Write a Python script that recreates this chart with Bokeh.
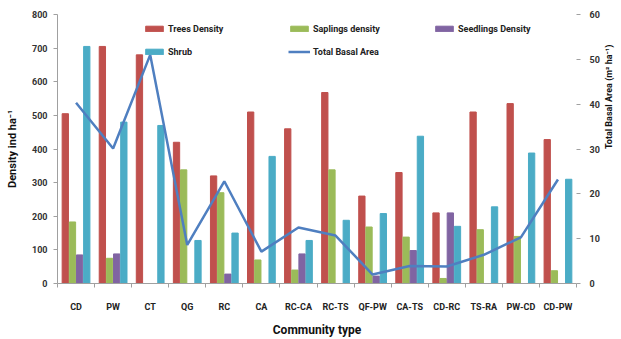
import math
from bokeh.plotting import figure
from bokeh.models import (Range1d, LinearAxis, FixedTicker, Legend, LegendItem,
                          ColumnDataSource)
from bokeh.embed import file_html
from bokeh.resources import INLINE

# Community types and measured stand attributes
communities = ["CD", "PW", "CT", "QG", "RC", "CA", "RC-CA", "RC-TS",
               "QF-PW", "CA-TS", "CD-RC", "TS-RA", "PW-CD", "CD-PW"]
trees_density = [505, 705, 680, 420, 320, 510, 460, 568, 260, 330, 210, 510, 535, 428]
saplings_density = [183, 75, 0, 338, 270, 70, 40, 338, 168, 138, 15, 160, 140, 38]
seedlings_density = [85, 88, 0, 0, 28, 0, 88, 0, 22, 98, 210, 0, 0, 0]
shrub = [705, 480, 470, 128, 150, 378, 128, 188, 208, 438, 170, 228, 388, 310]
total_basal_area = [40.3, 30.1, 51.0, 8.6, 22.8, 7.1, 12.5, 10.7, 2.0, 3.9, 3.8, 6.4, 10.3, 23.2]

left_ticks = [0, 100, 200, 300, 400, 500, 600, 700, 800]
right_ticks = [0, 10, 20, 30, 40, 50, 60]

FONT = "Roboto"
RED, GREEN, PURPLE, CYAN, BLUE = "#C0504D", "#9BBB59", "#8064A2", "#4BACC6", "#4F7FC0"

n = len(communities)
centers = [i + 0.5 for i in range(n)]
step = 0.193
bw = 0.17

p = figure(width=621, height=339, output_backend="svg", toolbar_location=None,
           x_range=Range1d(0, n), y_range=Range1d(0, 800),
           min_border_left=57, min_border_right=34, min_border_top=14,
           min_border_bottom=46, outline_line_color=None,
           background_fill_color="white", border_fill_color="white")
p.grid.visible = False
p.extra_y_ranges = {"tba": Range1d(0, 60)}

src = ColumnDataSource(dict(x=centers, tba=total_basal_area))

def shifted(k):
    return [c + k * step for c in centers]

r_trees = p.vbar(x=shifted(-1.5), top=trees_density, width=bw, color=RED)
r_sap = p.vbar(x=shifted(-0.5), top=saplings_density, width=bw, color=GREEN)
r_seed = p.vbar(x=shifted(0.5), top=seedlings_density, width=bw, color=PURPLE)
r_shrub = p.vbar(x=shifted(1.5), top=shrub, width=bw, color=CYAN)
r_line = p.line("x", "tba", source=src, y_range_name="tba", line_color=BLUE,
                line_width=2.5)

# bottom category axis: labels at centres, tick marks at group boundaries
xa = p.xaxis[0]
xa.ticker = FixedTicker(ticks=centers, minor_ticks=list(range(n + 1)))
xa.major_label_overrides = {c: lab for c, lab in zip(centers, communities)}
xa.major_tick_line_color = None
xa.minor_tick_out = 4
xa.minor_tick_in = 0
xa.minor_tick_line_color = "#A0A0A0"
xa.axis_line_color = "#A0A0A0"
xa.major_label_text_font = FONT
xa.major_label_text_font_style = "bold"
xa.major_label_text_font_size = "9px"
xa.major_label_text_color = "#222222"
xa.major_label_standoff = 12
xa.axis_label = "Community type"
xa.axis_label_text_font = FONT
xa.axis_label_text_font_style = "bold"
xa.axis_label_text_font_size = "12px"
xa.axis_label_text_color = "#111111"
xa.axis_label_standoff = 8

ya = p.yaxis[0]
ya.ticker = FixedTicker(ticks=left_ticks)
ya.axis_line_color = "#A0A0A0"
ya.major_tick_line_color = "#A0A0A0"
ya.major_tick_out = 4
ya.major_tick_in = 0
ya.minor_tick_line_color = None
ya.major_label_text_font = FONT
ya.major_label_text_font_style = "bold"
ya.major_label_text_font_size = "9px"
ya.major_label_text_color = "#333333"
ya.major_label_standoff = 6
ya.axis_label = "Density ind ha\u207b\u00b9"
ya.axis_label_text_font = FONT
ya.axis_label_text_font_style = "bold"
ya.axis_label_text_font_size = "11px"
ya.axis_label_text_color = "#111111"
ya.axis_label_standoff = 10

ra = LinearAxis(y_range_name="tba", ticker=FixedTicker(ticks=right_ticks))
ra.axis_line_color = None
ra.major_tick_line_color = "#A0A0A0"
ra.major_tick_out = 4
ra.major_tick_in = 0
ra.minor_tick_line_color = None
ra.major_label_text_font = FONT
ra.major_label_text_font_style = "bold"
ra.major_label_text_font_size = "9px"
ra.major_label_text_color = "#333333"
ra.major_label_standoff = 9
ra.axis_label = "Total Basal Area (m\u00b2 ha\u207b\u00b9)"
ra.axis_label_text_font = FONT
ra.axis_label_text_font_style = "bold"
ra.axis_label_text_font_size = "9px"
ra.axis_label_text_color = "#111111"
ra.axis_label_standoff = 6
ra.axis_label_orientation = math.pi / 2
p.add_layout(ra, "right")

# legend grid fills column by column: order items so rows read as in a 3x2 key
legend = Legend(items=[
    LegendItem(label="Trees Density", renderers=[r_trees]),
    LegendItem(label="Shrub", renderers=[r_shrub]),
    LegendItem(label="Saplings density", renderers=[r_sap]),
    LegendItem(label="Total Basal Area", renderers=[r_line]),
    LegendItem(label="Seedlings Density", renderers=[r_seed]),
], ncols=3, location=(86, 220), padding=0, margin=0, spacing=0,
   glyph_width=22, glyph_height=7, label_standoff=3, label_width=120,
   label_height=23, label_text_font=FONT, label_text_font_style="bold",
   label_text_font_size="9px", label_text_color="#222222",
   background_fill_alpha=0, border_line_color=None)
p.add_layout(legend)

open("out.html", "w").write(file_html(p, INLINE))
